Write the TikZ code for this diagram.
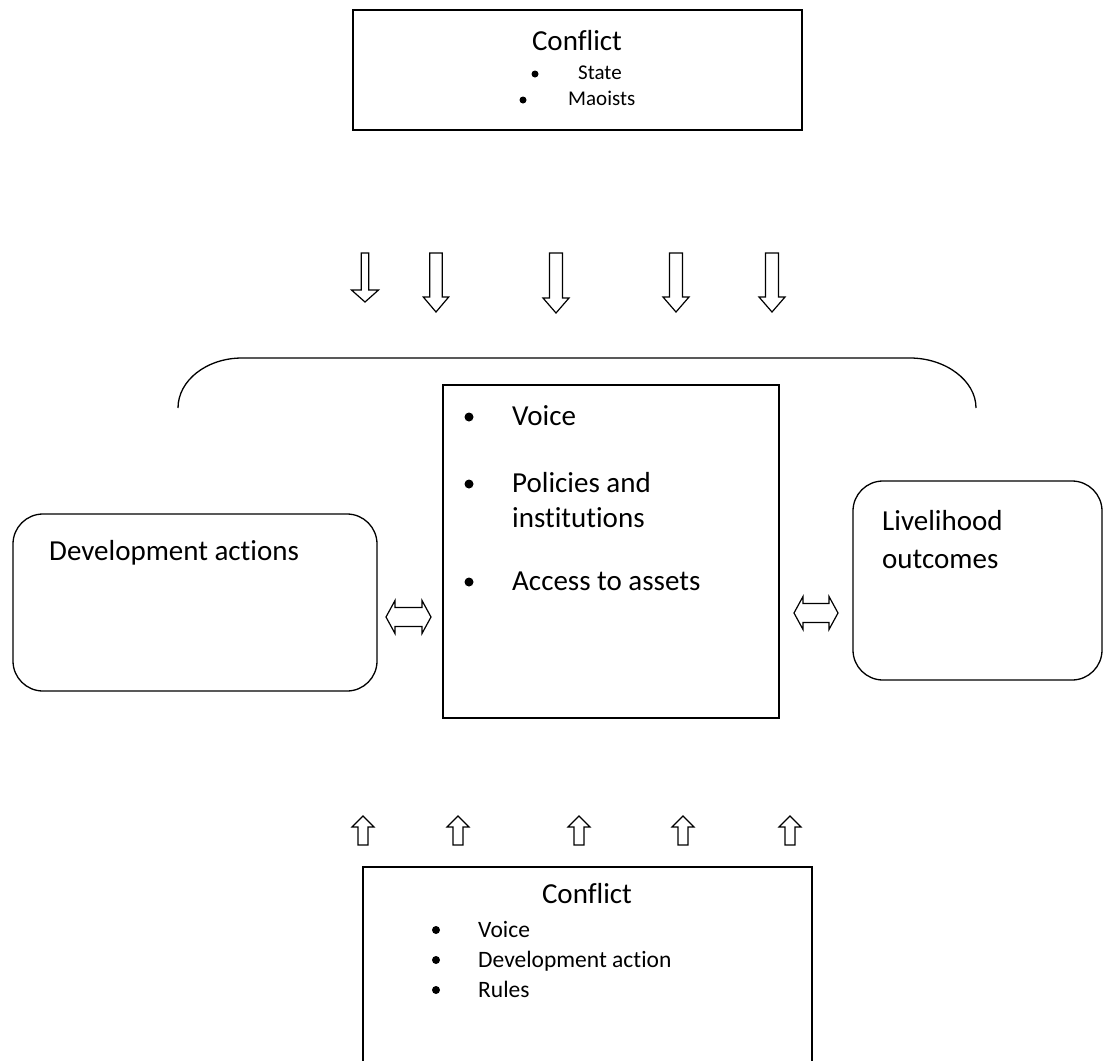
\documentclass[tikz,border=0pt]{standalone}
\usepackage{fontspec}
\setmainfont{Carlito}[Ligatures={NoCommon}]
\begin{document}
\begin{tikzpicture}[x=1pt,y=-1pt,
  line/.style={draw=black,line width=1.3pt},
  blockarrow/.style={draw=black,line width=1.2pt,line join=miter,fill=white},
  txt/.style={inner sep=0pt,anchor=base west},
  bigtxt/.style={txt,font=\fontsize{29}{34}\selectfont},
  smalltxt/.style={txt,font=\fontsize{21}{25}\selectfont},
  midtxt/.style={txt,font=\fontsize{23.5}{28}\selectfont},
  bul/.style={circle,fill=black,inner sep=0pt,minimum size=#1},
  rbox/.style={line,rounded corners=30pt,inner sep=0pt}]
\useasboundingbox (0,0) rectangle (1104,1061);

% top box
\node[line,inner sep=0pt,minimum width=449pt,minimum height=120pt] (top) at (577.5,70) {};
\node[bigtxt,anchor=base] (topttl) at (577,50) {Conflict};
\node[bul=7pt] (tb1) at (535,74) {};
\node[smalltxt] (tstate) at (578,79) {State};
\node[bul=7pt] (tb2) at (523,100) {};
\node[smalltxt] (tmao) at (568,105) {Maoists};

% down block arrows
\foreach \cx/\sw/\hw/\hs/\tp in {365/3.8/13.5/290/302, 436/6.3/12.7/297/312, 556/6.5/13/298/313, 676/6.5/13/297/312, 772/6.5/13/297/312}{
  \draw[blockarrow] (\cx-\sw,253) -- (\cx+\sw,253) -- (\cx+\sw,\hs) -- (\cx+\hw,\hs) -- (\cx,\tp) -- (\cx-\hw,\hs) -- (\cx-\sw,\hs) -- cycle;
}

% brace
\coordinate (brl) at (178,408);
\coordinate (brr) at (976,408);
\draw[line] (brl) .. controls (178,380.4) and (206.7,358) .. (242,358) -- (910,358) .. controls (945.3,358) and (976,380.4) .. (brr);

% middle box
\node[line,inner sep=0pt,minimum width=336pt,minimum height=333pt] (mid) at (611,551.5) {};
\node[bul=9pt] (mb1) at (469,417) {};
\node[bigtxt] (mvoice) at (512,425) {Voice};
\node[bul=9pt] (mb2) at (469,484) {};
\node[bigtxt] (mpol) at (512,492) {Policies and};
\node[bigtxt] (minst) at (512,527) {institutions};
\node[bul=9pt] (mb3) at (469,582) {};
\node[bigtxt] (macc) at (512,590) {Access to assets};

% left box
\node[rbox,minimum width=364pt,minimum height=177pt] (left) at (195,602.5) {};
\node[bigtxt] (ltxt) at (49,560) {Development actions};

% right box
\node[rbox,minimum width=249pt,minimum height=199pt] (right) at (977.5,580.5) {};
\node[bigtxt] (rtxt1) at (882,530) {Livelihood};
\node[bigtxt] (rtxt2) at (882,568) {outcomes};

% double arrows
\foreach \xa/\xb/\cy in {386/431/617, 794/838/613}{
  \draw[blockarrow] (\xa,\cy) -- (\xa+9,\cy-16.5) -- (\xa+9,\cy-9.5) -- (\xb-9,\cy-9.5) -- (\xb-9,\cy-16.5) -- (\xb,\cy) -- (\xb-9,\cy+16.5) -- (\xb-9,\cy+9.5) -- (\xa+9,\cy+9.5) -- (\xa+9,\cy+16.5) -- cycle;
}

% up block arrows
\foreach \cx in {363,458,579,683,790}{
  \draw[blockarrow] (\cx,816) -- (\cx+11,827) -- (\cx+5,827) -- (\cx+5,845) -- (\cx-5,845) -- (\cx-5,827) -- (\cx-11,827) -- cycle;
}

% bottom box (extends beyond the page)
\coordinate (bbl) at (363,1075);
\coordinate (bbr) at (812,1075);
\draw[line] (bbl) -- (363,867) -- (812,867) -- (bbr);
\node[bigtxt,anchor=base] (botttl) at (587,903) {Conflict};
\node[bul=8pt] (bb1) at (436,930) {};
\node[midtxt] (bvoice) at (478,937) {Voice};
\node[bul=8pt] (bb2) at (436,960) {};
\node[midtxt] (bdev) at (478,967) {Development action};
\node[bul=8pt] (bb3) at (436,990) {};
\node[midtxt] (brules) at (478,997) {Rules};
\end{tikzpicture}
\end{document}
